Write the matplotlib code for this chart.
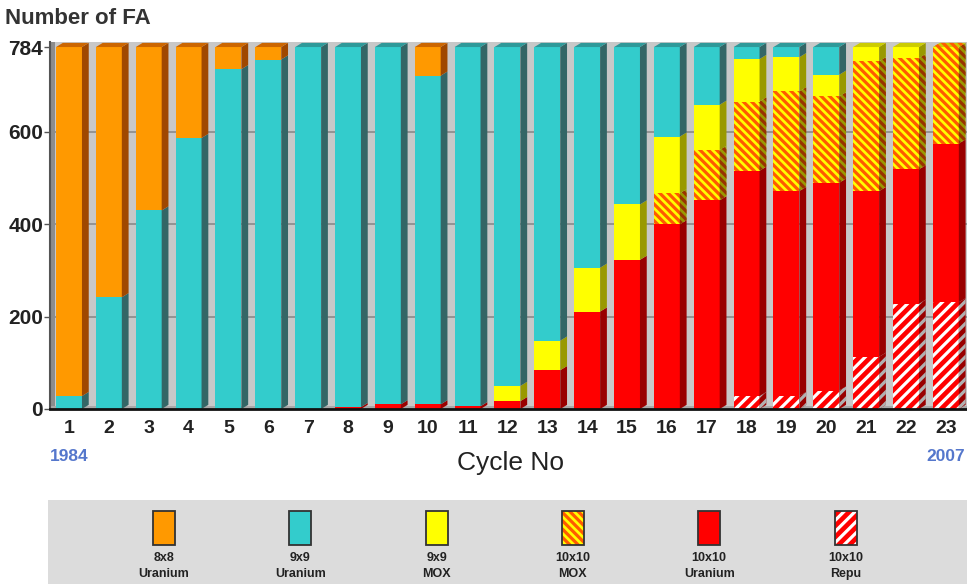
import matplotlib
matplotlib.use("Agg")
import matplotlib.pyplot as plt
from matplotlib.patches import Polygon, Rectangle
import numpy as np

plt.rcParams['font.family'] = ['Liberation Sans', 'DejaVu Sans']
plt.rcParams['hatch.linewidth'] = 2.3

# fuel assembly counts per cycle, stacked bottom -> top
cycles = list(range(1, 24))
repu_10x10 = [0, 0, 0, 0, 0, 0, 0, 0, 0, 0, 0, 0, 0, 0, 0, 0, 0, 28, 28, 40, 113, 228, 231]
uran_10x10 = [0, 0, 0, 0, 0, 0, 0, 4, 10, 10, 6, 17, 84, 211, 323, 400, 452, 488, 444, 450, 359, 291, 344]
mox_10x10 = [0, 0, 0, 0, 0, 0, 0, 0, 0, 0, 0, 0, 0, 0, 0, 67, 109, 150, 216, 187, 281, 241, 209]
mox_9x9 = [0, 0, 0, 0, 0, 0, 0, 0, 0, 0, 0, 33, 64, 95, 120, 123, 98, 92, 74, 47, 31, 24, 0]
uran_9x9 = [28, 242, 430, 587, 736, 757, 784, 780, 774, 712, 778, 734, 636, 478, 341, 194, 125, 26, 22, 60, 0, 0, 0]
uran_8x8 = [756, 542, 354, 197, 48, 27, 0, 0, 0, 62, 0, 0, 0, 0, 0, 0, 0, 0, 0, 0, 0, 0, 0]

legend_lines = [("8x8", "Uranium"), ("9x9", "Uranium"), ("9x9", "MOX"),
                ("10x10", "MOX"), ("10x10", "Uranium"), ("10x10", "Repu")]

y_ticks = [0, 200, 400, 600, 784]

# (values, front colour, hatch, hatch colour, side colour, side hatch colour, top colour)
series = [
    (repu_10x10, '#ff0000', '///', 'white', '#990000', '#b0b0b0', '#cc0000'),
    (uran_10x10, '#ff0000', None, None, '#990000', None, '#cc0000'),
    (mox_10x10, '#ffff00', '\\\\\\\\', '#ff5a00', '#999900', '#993300', '#cccc00'),
    (mox_9x9, '#ffff00', None, None, '#999900', None, '#cccc00'),
    (uran_9x9, '#33cccc', None, None, '#336666', None, '#2e9999'),
    (uran_8x8, '#ff9900', None, None, '#a04800', None, '#cc6600'),
]
legend_order = [5, 4, 3, 2, 1, 0]

W = 967
H = 584
fig = plt.figure(figsize=(W / 100, H / 100), dpi=100)
fig.patch.set_facecolor('white')

ax = fig.add_axes([50 / W, 175 / H, 917 / W, 367.5 / H])
ax.set_facecolor('#c8c8c8')
ax.set_xlim(0.523, 23.53)
ax.set_ylim(0, 796)

# back wall grid and left wall strip
for yv in y_ticks[1:-1]:
    ax.axhline(yv, color='#8a8a8a', lw=1.2, zorder=0)
ax.axvspan(0.523, 0.64, color='#8c8c8c', zorder=0.5, lw=0)
ax.axhspan(0, 6, color='#a8a8a8', zorder=0.5, lw=0)

x = np.array(cycles, dtype=float)
w = 0.65
dx, dy = 0.17, 9
bottom = np.zeros(len(cycles))

for vals, face, hatch, hcol, side, side_h, top in series:
    vals = np.array(vals, dtype=float)
    ax.bar(x, vals, bottom=bottom, width=w, color=face, hatch=hatch,
           edgecolor=hcol if hcol else face, linewidth=0, zorder=2)
    for xi, b, v in zip(x, bottom, vals):
        if v <= 0:
            continue
        r = xi + w / 2
        pts = [(r, b), (r + dx, b + dy), (r + dx, b + v + dy), (r, b + v)]
        ax.add_patch(Polygon(pts, closed=True, facecolor=side, hatch=hatch,
                             edgecolor=side_h if side_h else side, linewidth=0, zorder=2))
    bottom = bottom + vals

# top faces of the stacks
for xi, T in zip(x, bottom):
    top_col = None
    for vals, face, hatch, hcol, side, side_h, top in series:
        if vals[cycles.index(int(xi))] > 0:
            top_col = (top, hatch, hcol)
    pts = [(xi - w / 2, T), (xi - w / 2 + dx, T + dy), (xi + w / 2 + dx, T + dy), (xi + w / 2, T)]
    ax.add_patch(Polygon(pts, closed=True, facecolor=top_col[0], hatch=top_col[1],
                         edgecolor=top_col[2] if top_col[2] else top_col[0], linewidth=0, zorder=2))

for s in ['top', 'right']:
    ax.spines[s].set_visible(False)
ax.spines['left'].set_color('#555555')
ax.spines['left'].set_linewidth(1.5)
ax.spines['bottom'].set_color('#111111')
ax.spines['bottom'].set_linewidth(2)

ax.set_yticks(y_ticks)
ax.set_yticklabels([str(t) for t in y_ticks], fontsize=15, fontweight='bold', color='#222222')
ax.set_xticks(cycles)
ax.set_xticklabels([str(c) for c in cycles], fontsize=14, fontweight='bold', color='#222222')
ax.tick_params(axis='y', length=4, width=1, color='#555555', pad=1)
ax.tick_params(axis='x', length=0, pad=8)

ax.annotate('1984', xy=(1, 0), xycoords=('data', 'axes fraction'), xytext=(0, -34),
            textcoords='offset points', ha='center', va='center',
            fontsize=12.5, fontweight='bold', color='#5577cc')
ax.annotate('2007', xy=(23, 0), xycoords=('data', 'axes fraction'), xytext=(0, -34),
            textcoords='offset points', ha='center', va='center',
            fontsize=12.5, fontweight='bold', color='#5577cc')

fig.text(510 / W, 1 - 463 / H, 'Cycle No', fontsize=19, color='#222222', ha='center', va='center')
fig.text(5 / W, 1 - 18 / H, 'Number of FA', fontsize=16, fontweight='bold', color='#333333',
         ha='left', va='center')

# legend panel
lax = fig.add_axes([48 / W, 0, (W - 48) / W, 84 / H])
lax.set_facecolor('#dcdcdc')
lax.set_xlim(48, W)
lax.set_ylim(H, 500)
lax.set_xticks([])
lax.set_yticks([])
for s in lax.spines.values():
    s.set_visible(False)

for k, (i, (l1, l2)) in enumerate(zip(legend_order, legend_lines)):
    vals, face, hatch, hcol, side, side_h, top = series[i]
    cx = 164 + 136.3 * k
    lax.add_patch(Rectangle((cx - 11, 511), 22, 34, facecolor=face, hatch=hatch,
                            edgecolor=hcol if hcol else face, linewidth=0))
    lax.add_patch(Rectangle((cx - 11, 511), 22, 34, facecolor='none',
                            edgecolor='#333333', linewidth=1.3))
    lax.text(cx, 558, l1, ha='center', va='center', fontsize=9, fontweight='bold',
             color='#222222', family=['Liberation Sans Narrow', 'Liberation Sans'])
    lax.text(cx, 574, l2, ha='center', va='center', fontsize=9, fontweight='bold',
             color='#222222', family=['Liberation Sans Narrow', 'Liberation Sans'])

fig.savefig('out.png', dpi=100)
